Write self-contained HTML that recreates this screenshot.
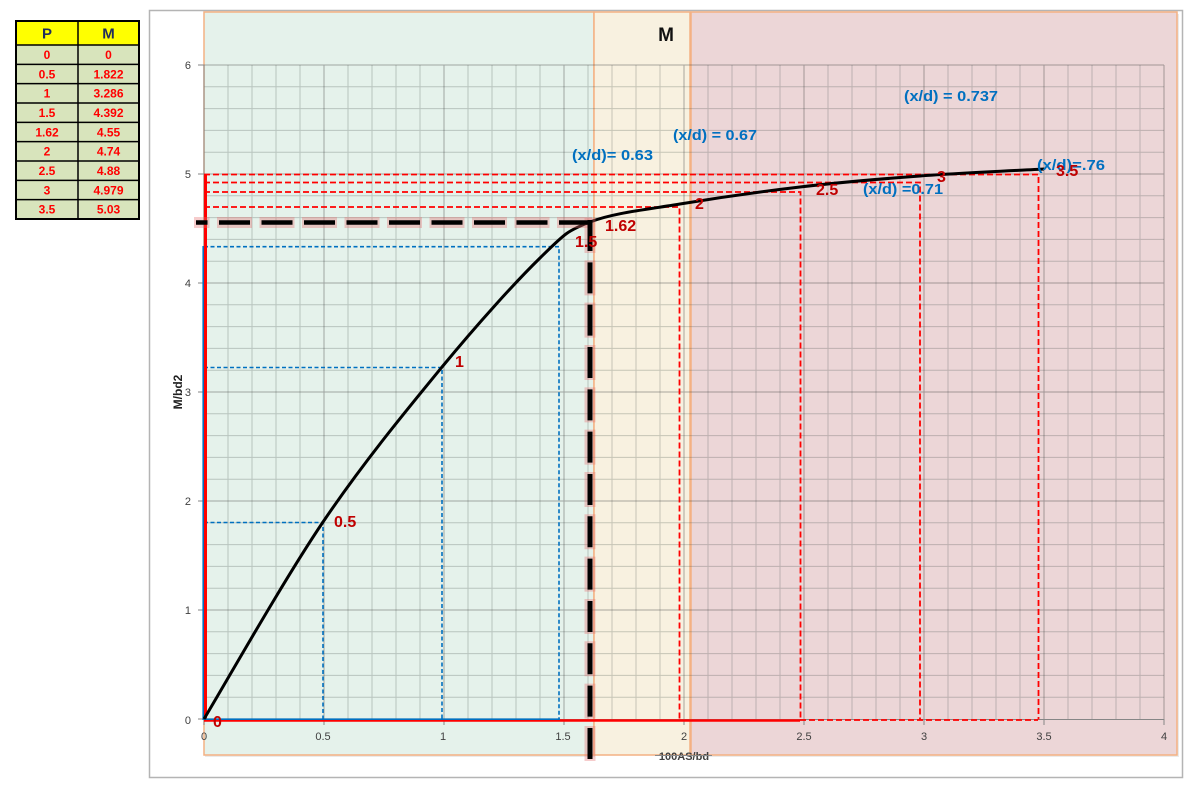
<!DOCTYPE html>
<html>
<head>
<meta charset="utf-8">
<style>
  html,body{margin:0;padding:0;background:#fff;}
  svg{display:block;}
  text{font-family:"Liberation Sans",Arial,sans-serif;}
</style>
</head>
<body>
<svg width="1200" height="790" viewBox="0 0 1200 790" xmlns="http://www.w3.org/2000/svg">
  <!-- Table -->
  <rect x="16" y="21" width="123" height="24" fill="#FFFF00"/>
  <rect x="16" y="45" width="123" height="174" fill="#D8E4BC"/>
  <g stroke="#000" stroke-width="1.5">
    <line x1="78" y1="21" x2="78" y2="219"/>
    <line x1="16" y1="45" x2="139" y2="45"/>
    <line x1="16" y1="64.33" x2="139" y2="64.33"/>
    <line x1="16" y1="83.67" x2="139" y2="83.67"/>
    <line x1="16" y1="103" x2="139" y2="103"/>
    <line x1="16" y1="122.33" x2="139" y2="122.33"/>
    <line x1="16" y1="141.67" x2="139" y2="141.67"/>
    <line x1="16" y1="161" x2="139" y2="161"/>
    <line x1="16" y1="180.33" x2="139" y2="180.33"/>
    <line x1="16" y1="199.67" x2="139" y2="199.67"/>
  </g>
  <rect x="16" y="21" width="123" height="198" fill="none" stroke="#000" stroke-width="2"/>
  <g font-weight="bold" font-size="15" fill="#1F2D5C" text-anchor="middle">
    <text x="47" y="38.5">P</text>
    <text x="108.5" y="38.5">M</text>
  </g>
  <g font-weight="bold" font-size="12" fill="#FF0000" text-anchor="middle">
    <text x="47" y="59">0</text><text x="108.5" y="59">0</text>
    <text x="47" y="78.3">0.5</text><text x="108.5" y="78.3">1.822</text>
    <text x="47" y="97.7">1</text><text x="108.5" y="97.7">3.286</text>
    <text x="47" y="117">1.5</text><text x="108.5" y="117">4.392</text>
    <text x="47" y="136.3">1.62</text><text x="108.5" y="136.3">4.55</text>
    <text x="47" y="155.7">2</text><text x="108.5" y="155.7">4.74</text>
    <text x="47" y="175">2.5</text><text x="108.5" y="175">4.88</text>
    <text x="47" y="194.3">3</text><text x="108.5" y="194.3">4.979</text>
    <text x="47" y="213.7">3.5</text><text x="108.5" y="213.7">5.03</text>
  </g>

  <!-- Outer chart frame -->
  <rect x="149.5" y="10.5" width="1033" height="767" fill="#fff" stroke="#B4B4B4" stroke-width="1.5"/>

  <!-- Colored regions -->
  <rect x="205" y="14" width="390" height="743" fill="#dcdcdc" opacity="0.6"/>
  <rect x="692" y="14" width="487" height="743" fill="#dcdcdc" opacity="0.6"/>
  <rect x="204" y="12" width="390" height="743" fill="#E5F2EB" stroke="#F4B183" stroke-width="1.5"/>
  <rect x="594" y="12" width="96" height="743" fill="#F8F1E0" stroke="#F4B183" stroke-width="1.5"/>
  <rect x="691" y="12" width="486" height="743" fill="#ECD6D7" stroke="#F4B183" stroke-width="1.5"/>

  <!-- Grid -->
  <path fill="none" stroke="rgba(70,80,75,0.28)" stroke-width="1" d="M228 65V719M252 65V719M276 65V719M300 65V719M348 65V719M372 65V719M396 65V719M420 65V719M468 65V719M492 65V719M516 65V719M540 65V719M588 65V719M612 65V719M636 65V719M660 65V719M708 65V719M732 65V719M756 65V719M780 65V719M828 65V719M852 65V719M876 65V719M900 65V719M948 65V719M972 65V719M996 65V719M1020 65V719M1068 65V719M1092 65V719M1116 65V719M1140 65V719
  M204 86.8H1164M204 108.6H1164M204 130.4H1164M204 152.2H1164M204 195.8H1164M204 217.6H1164M204 239.4H1164M204 261.2H1164M204 304.8H1164M204 326.6H1164M204 348.4H1164M204 370.2H1164M204 413.8H1164M204 435.6H1164M204 457.4H1164M204 479.2H1164M204 522.8H1164M204 544.6H1164M204 566.4H1164M204 588.2H1164M204 631.8H1164M204 653.6H1164M204 675.4H1164M204 697.2H1164"/>
  <path fill="none" stroke="rgba(60,60,60,0.42)" stroke-width="1" d="M324 65V719M444 65V719M564 65V719M684 65V719M804 65V719M924 65V719M1044 65V719M1164 65V719M204 65H1164M204 174H1164M204 283H1164M204 392H1164M204 501H1164M204 610H1164"/>

  <!-- Axes -->
  <line x1="204" y1="65" x2="204" y2="719" stroke="#868686" stroke-width="1"/>
  <line x1="204" y1="719.5" x2="1164" y2="719.5" stroke="#868686" stroke-width="1"/>
  <path stroke="#868686" stroke-width="1" d="M198 65H204M198 174H204M198 283H204M198 392H204M198 501H204M198 610H204M198 719H204
     M204 719V725M324 719V725M444 719V725M564 719V725M684 719V725M804 719V725M924 719V725M1044 719V725M1164 719V725"/>

  <!-- Tick labels -->
  <g font-size="11" fill="#404040" text-anchor="end">
    <text x="191" y="69">6</text>
    <text x="191" y="178">5</text>
    <text x="191" y="287">4</text>
    <text x="191" y="396">3</text>
    <text x="191" y="505">2</text>
    <text x="191" y="614">1</text>
    <text x="191" y="724">0</text>
  </g>
  <g font-size="11" fill="#404040" text-anchor="middle">
    <text x="204" y="740">0</text>
    <text x="323" y="740">0.5</text>
    <text x="443" y="740">1</text>
    <text x="563" y="740">1.5</text>
    <text x="684" y="740">2</text>
    <text x="804" y="740">2.5</text>
    <text x="924" y="740">3</text>
    <text x="1044" y="740">3.5</text>
    <text x="1164" y="740">4</text>
  </g>
  <text x="684" y="760" font-size="11" font-weight="bold" fill="#404040" text-anchor="middle">100AS/bd</text>
  <line x1="655" y1="755.5" x2="712" y2="755.5" stroke="#8a8a8a" stroke-width="1"/>
  <text transform="translate(182,392) rotate(-90)" font-size="12" font-weight="bold" fill="#222" text-anchor="middle">M/bd2</text>

  <!-- Red dashed rectangles -->
  <g fill="none" stroke="#FF0000" stroke-width="1.8" stroke-dasharray="6 3">
    <path d="M204 174.5H1038.5V719.5"/>
    <path d="M204 182.5H920V719.5"/>
    <path d="M204 192H800.5V719.5"/>
    <path d="M204 207H679.5V719.5"/>
    <path d="M800 720H1038"/>
  </g>
  <!-- Blue dashed rectangles -->
  <g fill="none" stroke="#0070C0" stroke-width="1.6" stroke-dasharray="4 2.5">
    <path d="M204 522.5H323V719"/>
    <path d="M204 367.5H442V719"/>
    <path d="M204 246.7H559V719"/>
  </g>
  <!-- Solid red / blue on axes -->
  <line x1="205.5" y1="174" x2="205.5" y2="720" stroke="#FF0000" stroke-width="3"/>
  <line x1="203.2" y1="246" x2="203.2" y2="720" stroke="#0070C0" stroke-width="1.6"/>
  <line x1="204" y1="720.5" x2="800" y2="720.5" stroke="#FF0000" stroke-width="2.5"/>
  <line x1="204" y1="719.2" x2="560" y2="719.2" stroke="#0070C0" stroke-width="1.6"/>

  <!-- Curve -->
  <path fill="none" stroke="#000" stroke-width="3" stroke-linejoin="round"
    d="M204 719 C223.8 686.2 283.3 580.7 323 522 C362.7 463.3 405.8 411 442 367 C478.2 323 515.3 282.2 540 258 C564.7 233.8 566.7 231 590 222 C613.3 213 645 209.8 680 204 C715 198.2 760 191.7 800 187 C840 182.3 879.3 179 920 176 C960.7 173 1023.3 170.2 1044 169"/>

  <!-- Thick dashed black lines with glow -->
  <g fill="none">
    <path d="M592 222.5H194" stroke="rgba(230,110,110,0.35)" stroke-width="11" stroke-dasharray="35 7.5"/>
    <path d="M590 218V761" stroke="rgba(230,110,110,0.35)" stroke-width="11" stroke-dasharray="35 7.33"/>
    <path d="M590 222.5H196" stroke="#000" stroke-width="4.5" stroke-dasharray="31 11.5"/>
    <path d="M590 220V759" stroke="#000" stroke-width="5" stroke-dasharray="31 11.33"/>
  </g>

  <!-- Region header -->
  <text x="666" y="41" font-size="19" font-weight="bold" fill="#111" text-anchor="middle">M</text>

  <!-- Blue x/d labels -->
  <g font-size="15" font-weight="bold" fill="#0070C0">
    <text x="904" y="101" textLength="94" lengthAdjust="spacingAndGlyphs">(x/d) = 0.737</text>
    <text x="673" y="140" textLength="84" lengthAdjust="spacingAndGlyphs">(x/d) = 0.67</text>
    <text x="572" y="160" textLength="81" lengthAdjust="spacingAndGlyphs">(x/d)= 0.63</text>
    <text x="863" y="194" textLength="80" lengthAdjust="spacingAndGlyphs">(x/d) =0.71</text>
    <text x="1037" y="170" textLength="68" lengthAdjust="spacingAndGlyphs">(x/d)=.76</text>
  </g>

  <!-- Red point labels -->
  <g font-size="16" font-weight="bold" fill="#C00000">
    <text x="213" y="727">0</text>
    <text x="334" y="527">0.5</text>
    <text x="455" y="367">1</text>
    <text x="575" y="247">1.5</text>
    <text x="605" y="231">1.62</text>
    <text x="695" y="209">2</text>
    <text x="816" y="195">2.5</text>
    <text x="937" y="182">3</text>
    <text x="1056" y="176">3.5</text>
  </g>
</svg>
</body>
</html>
